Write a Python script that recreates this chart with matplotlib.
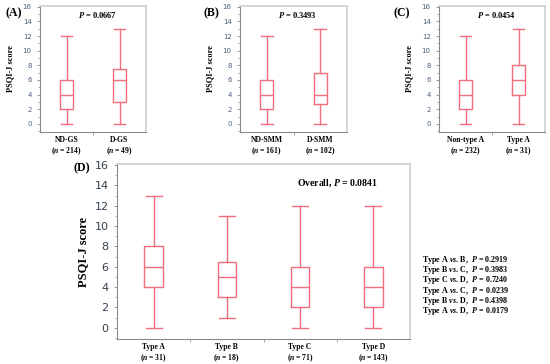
import matplotlib
matplotlib.use("Agg")
import matplotlib.pyplot as plt
from matplotlib.ticker import MultipleLocator, FixedLocator

plt.rcParams['font.family'] = ['Liberation Serif', 'DejaVu Serif']
plt.rcParams['mathtext.fontset'] = 'custom'
plt.rcParams['mathtext.it'] = 'Liberation Serif:italic:bold'
plt.rcParams['mathtext.rm'] = 'Liberation Serif:bold'

# box statistics: (whisker low, q1, median, q3, whisker high)
labels_a = ["ND-GS", "D-GS"]
n_a = [214, 49]
stats_a = [(0, 2, 4, 6, 12), (0, 3, 6, 7.5, 13)]
p_a = "0.0667"

labels_b = ["ND-SMM", "D-SMM"]
n_b = [161, 102]
stats_b = [(0, 2, 4, 6, 12), (0, 2.75, 4, 7, 13)]
p_b = "0.3493"

labels_c = ["Non-type A", "Type A"]
n_c = [232, 31]
stats_c = [(0, 2, 4, 6, 12), (0, 4, 6, 8, 13)]
p_c = "0.0454"

labels_d = ["Type A", "Type B", "Type C", "Type D"]
n_d = [31, 18, 71, 143]
stats_d = [(0, 4, 6, 8, 13), (1, 3, 5, 6.5, 11), (0, 2, 4, 6, 12), (0, 2, 4, 6, 12)]
p_d = "0.0841"

pairs = ["Type A vs. B", "Type B vs. C", "Type C vs. D",
         "Type A vs. C", "Type B vs. D", "Type A vs. D"]
pair_p = ["0.2919", "0.3983", "0.7240", "0.0239", "0.4398", "0.0179"]

BOX = '#f26d7d'

W, H = 550, 364
fig = plt.figure(figsize=(5.5, 3.64), dpi=100)


def add_ax(left, top, right, bottom):
    return fig.add_axes([left / W, 1 - bottom / H, (right - left) / W, (bottom - top) / H])


def draw_panel(ax, labels, ns, stats, small=True):
    bstats = []
    for lab, s in zip(labels, stats):
        bstats.append(dict(whislo=s[0], q1=s[1], med=s[2], q3=s[3], whishi=s[4], fliers=[], label=lab))
    pos = list(range(1, len(labels) + 1))
    props = dict(color=BOX, linewidth=1.0)
    ax.bxp(bstats, positions=pos, widths=0.25, showfliers=False,
           boxprops=props, whiskerprops=props, capprops=props, medianprops=props,
           capwidths=0.22)
    ax.set_xlim(0.5, len(labels) + 0.5)
    ax.set_ylim(-1.1, 16.1)
    ax.yaxis.set_major_locator(MultipleLocator(2))
    ax.yaxis.set_minor_locator(MultipleLocator(1))
    ax.set_xticks(pos)
    ax.set_xticklabels([f"{lab}\n($n$ = {n})" for lab, n in zip(labels, ns)],
                       fontsize=5.5, fontweight='bold', linespacing=1.15)
    ax.xaxis.set_minor_locator(FixedLocator([p + 0.5 for p in pos[:-1]]))
    ax.tick_params(axis='x', which='major', length=0, pad=3)
    ax.tick_params(axis='x', which='minor', length=2, color='#999999')
    ysize = 5 if small else 8
    ycol = '#4a5f7a' if small else '#34404f'
    ax.tick_params(axis='y', which='major', length=2.5, labelsize=ysize,
                   labelcolor=ycol, color='#888888', width=0.6)
    ax.tick_params(axis='y', which='minor', length=1.5, color='#888888', width=0.5)
    for lbl in ax.get_yticklabels():
        lbl.set_family('DejaVu Sans')
    for side in ['left', 'bottom']:
        ax.spines[side].set_color('#8a8a8a')
        ax.spines[side].set_linewidth(0.8)
    for side in ['top', 'right']:
        ax.spines[side].set_color('#cfcfcf')
        ax.spines[side].set_linewidth(1.2)


ax_a = add_ax(40, 6, 146, 132)
ax_b = add_ax(240, 6, 347, 132)
ax_c = add_ax(439, 6, 545, 132)
ax_d = add_ax(117, 164, 410, 339)

for ax, labs, ns, st, p in [(ax_a, labels_a, n_a, stats_a, p_a),
                            (ax_b, labels_b, n_b, stats_b, p_b),
                            (ax_c, labels_c, n_c, stats_c, p_c)]:
    draw_panel(ax, labs, ns, st)
    ax.set_ylabel("PSQI-J score", fontsize=6, fontweight='bold', labelpad=6)
    ax.text(0.54, 0.93, f"$P$ = {p}", transform=ax.transAxes, ha='center', va='center',
            fontsize=6, fontweight='bold')

draw_panel(ax_d, labels_d, n_d, stats_d, small=False)
ax_d.set_ylabel("PSQI-J score", fontsize=9, fontweight='bold', labelpad=4)
ax_d.text(0.89, 0.89, f"Overall, $P$ = {p_d}", transform=ax_d.transAxes, ha='right',
          va='center', fontsize=7, fontweight='bold')

fig.text(5 / W, 1 - 13 / H, "(A)", fontsize=8.5, fontweight='bold', va='center')
fig.text(203 / W, 1 - 13 / H, "(B)", fontsize=8.5, fontweight='bold', va='center')
fig.text(394 / W, 1 - 13 / H, "(C)", fontsize=8.5, fontweight='bold', va='center')
fig.text(73 / W, 1 - 168 / H, "(D)", fontsize=8.5, fontweight='bold', va='center')

lines = []
for pr, pv in zip(pairs, pair_p):
    a, b = pr.split(" vs. ")
    lines.append(f"{a} $vs$. {b},  $P$ = {pv}")
fig.text(422 / W, 1 - 254 / H, "\n".join(lines), fontsize=5.8, fontweight='bold',
         va='top', linespacing=0.78)

fig.savefig("out.png", dpi=100)
